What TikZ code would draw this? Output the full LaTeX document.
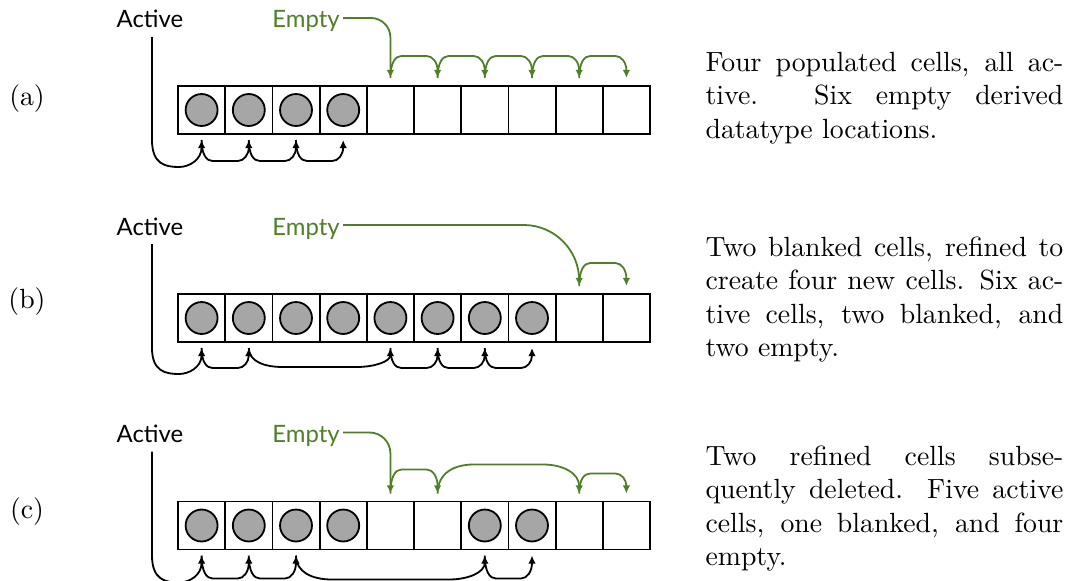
\documentclass[tikz,border=0pt]{standalone}
\usepackage{fontspec}
\newfontfamily\labfont{Lato}
\usetikzlibrary{calc,arrows.meta}
\definecolor{egreen}{RGB}{80,127,40}
\def\px{0.36pt}
% style, from, to, height (signed), corner width
\newcommand\lnk[5]{%
  \draw[#1] (#2) .. controls +(0,{0.7*(#4)}) and +({-0.55*(#5)},0) .. ($(#2)+(#5,#4)$)
    -- ($(#3)+(-#5,#4)$) .. controls +({0.55*(#5)},0) and +(0,{0.7*(#4)}) .. (#3);}
\begin{document}
\begin{tikzpicture}[x=\px, y=-\px,
  cell/.style={draw, line width=0.65pt, minimum width=16.99pt, minimum height=17.28pt, inner sep=0pt, outer sep=0pt},
  ball/.style={circle, draw, line width=0.65pt, fill=black!35, minimum size=11.5pt, inner sep=0pt},
  blink/.style={line width=0.65pt, -{Latex[length=2.9pt,width=2.7pt]}},
  glink/.style={blink, draw=egreen, fill=egreen},
  labtxt/.style={font=\labfont\fontsize{8.6}{10}\selectfont, inner sep=0pt, anchor=base},
  captxt/.style={anchor=base west, inner sep=0pt},
  tagtxt/.style={anchor=base, inner sep=0pt}]
\useasboundingbox (0,0) rectangle (1083,580);

% cells
\foreach \r/\y in {a/110, b/318, c/525.5} {
  \foreach \i in {1,...,10} {
    \node[cell] (\r\i) at ({178+(\i-0.5)*47.2},\y) {};
    \coordinate (\r\i d) at ($(\r\i.south)+(0,6)$);
    \coordinate (\r\i u) at ($(\r\i.north)+(0,-8)$);
  }
}
% occupied cells
\foreach \c in {a1,a2,a3,a4,b1,b2,b3,b4,b5,b6,b7,b8,c1,c2,c3,c4,c7,c8}
  \node[ball] (\c o) at (\c) {};

% labels
\node[labtxt] (Aa) at (150,28) {Active};
\node[labtxt, text=egreen] (Ea) at (306,28) {Empty};
\node[labtxt] (Ab) at (150,235) {Active};
\node[labtxt, text=egreen] (Eb) at (306,235) {Empty};
\node[labtxt] (Ac) at (150,442.5) {Active};
\node[labtxt, text=egreen] (Ec) at (306,442.5) {Empty};

% (a) connectors
\coordinate (Sa) at ($(Aa.base)+(2,9)$);
\coordinate (Pa) at (Sa |- a1d);
\draw[blink] (Sa) -- (Pa) .. controls +(0,24) and +(-14,0) .. ($(Pa)+(27,27)$)
  .. controls +(10,0) and +(0,20) .. (a1d);
\lnk{blink}{a1d}{a2d}{21}{11}
\lnk{blink}{a2d}{a3d}{21}{11}
\lnk{blink}{a3d}{a4d}{21}{11}
\coordinate (Fa) at ($(Ea.base east)+(3,-10)$);
\draw[glink, fill=none, rounded corners=7pt] (Fa) -| (a5u);
\lnk{glink, fill=none}{a5u}{a6u}{-22}{11}
\lnk{glink, fill=none}{a6u}{a7u}{-22}{11}
\lnk{glink, fill=none}{a7u}{a8u}{-22}{11}
\lnk{glink, fill=none}{a8u}{a9u}{-22}{11}
\lnk{glink, fill=none}{a9u}{a10u}{-22}{11}

% (b) connectors
\coordinate (Sb) at ($(Ab.base)+(2,9)$);
\coordinate (Pb) at (Sb |- b1d);
\draw[blink] (Sb) -- (Pb) .. controls +(0,23) and +(-14,0) .. ($(Pb)+(27,26)$)
  .. controls +(10,0) and +(0,19) .. (b1d);
\lnk{blink}{b1d}{b2d}{20}{11}
\lnk{blink}{b2d}{b5d}{19}{34}
\lnk{blink}{b5d}{b6d}{20}{11}
\lnk{blink}{b6d}{b7d}{20}{11}
\lnk{blink}{b7d}{b8d}{20}{11}
\coordinate (Fb) at ($(Eb.base east)+(3,-10)$);
\draw[glink, fill=none, rounded corners=20pt] (Fb) -| (b9u);
\lnk{glink, fill=none}{b9u}{b10u}{-23}{11}

% (c) connectors
\coordinate (Sc) at ($(Ac.base)+(2,9)$);
\coordinate (Pc) at (Sc |- c1d);
\draw[blink] (Sc) -- (Pc) .. controls +(0,24) and +(-14,0) .. ($(Pc)+(27,27)$)
  .. controls +(10,0) and +(0,20) .. (c1d);
\lnk{blink}{c1d}{c2d}{23}{11}
\lnk{blink}{c2d}{c3d}{23}{11}
\lnk{blink}{c3d}{c7d}{24}{36}
\lnk{blink}{c7d}{c8d}{23}{11}
\coordinate (Fc) at ($(Ec.base east)+(3,-10)$);
\draw[glink, fill=none, rounded corners=7.5pt] (Fc) -| (c5u);
\lnk{glink, fill=none}{c5u}{c6u}{-24}{11}
\lnk{glink, fill=none}{c6u}{c9u}{-29}{36}
\lnk{glink, fill=none}{c9u}{c10u}{-20}{11}

% tags
\node[tagtxt] (ta) at (27,105) {(a)};
\node[tagtxt] (tb) at (27,308) {(b)};
\node[tagtxt] (tc) at (27,518) {(c)};

% captions
\node[captxt] (ca1) at (705,71) {\makebox[128.8pt][s]{Four populated cells, all ac-}};
\node[captxt] (ca2) at (705,104.5) {\makebox[128.8pt][s]{tive.  Six empty derived}};
\node[captxt] (ca3) at (705,138) {datatype locations.};

\node[captxt] (cb1) at (705,256) {\makebox[128.8pt][s]{Two blanked cells, refined to}};
\node[captxt] (cb2) at (705,289.6) {\makebox[128.8pt][s]{create four new cells.  Six ac-}};
\node[captxt] (cb3) at (705,323.2) {\makebox[128.8pt][s]{tive cells, two blanked, and}};
\node[captxt] (cb4) at (705,356.8) {two empty.};

\node[captxt] (cc1) at (705,465) {\makebox[128.8pt][s]{Two refined cells subse-}};
\node[captxt] (cc2) at (705,498.6) {\makebox[128.8pt][s]{quently deleted.  Five active}};
\node[captxt] (cc3) at (705,532.2) {\makebox[128.8pt][s]{cells, one blanked, and four}};
\node[captxt] (cc4) at (705,565.8) {empty.};
\end{tikzpicture}
\end{document}
